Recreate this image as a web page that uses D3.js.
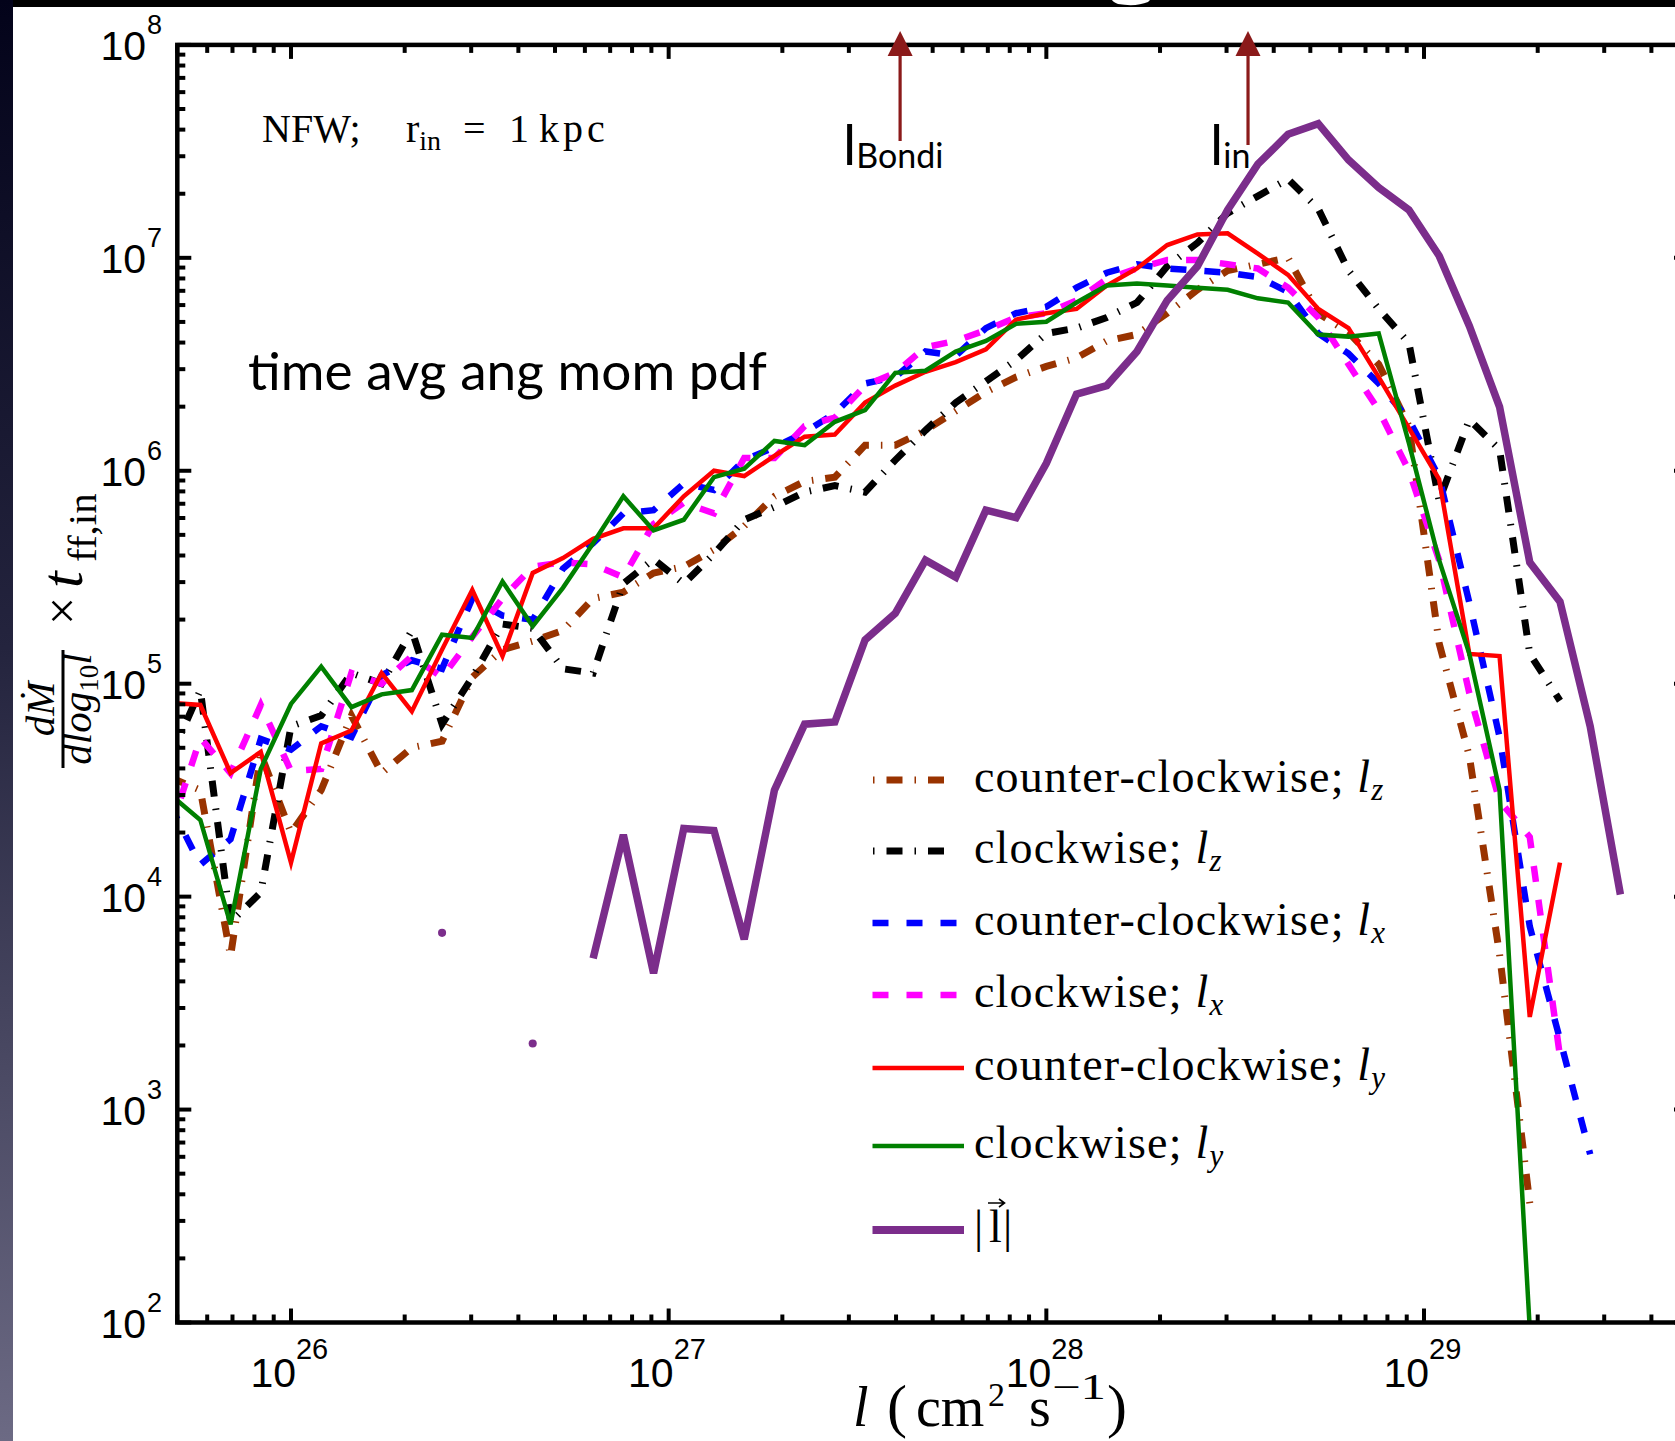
<!DOCTYPE html>
<html><head><meta charset="utf-8">
<script src="https://cdn.jsdelivr.net/npm/d3@7"></script>
<style>
html,body{margin:0;padding:0;background:#fff;overflow:hidden;}
svg{display:block;}
</style></head><body>
<svg id="chart" width="1675" height="1441"></svg>
<script>
// ---------- DATA (log10 bin centres of l, log10 of dMdot/dlog10 l * t_ff,in) ----------
const logL = [25.68,25.76,25.84,25.92,26.00,26.08,26.16,26.24,26.32,26.40,26.48,26.56,26.64,26.72,26.80,26.88,26.96,
  27.04,27.12,27.20,27.28,27.36,27.44,27.52,27.60,27.68,27.76,27.84,27.92,28.00,28.08,28.16,28.24,28.32,28.40,28.48,
  28.56,28.64,28.72,28.80,28.88,28.96,29.04,29.12,29.20,29.28,29.36,29.44,29.52];

const ccwLz = [4.56,4.50,3.72,4.67,4.30,4.50,4.85,4.58,4.70,4.73,5.03,5.16,5.20,5.25,5.40,5.43,5.52,5.55,5.63,5.74,
  5.88,5.95,5.97,6.12,6.12,6.19,6.28,6.37,6.44,6.49,6.53,6.61,6.64,6.74,6.85,6.94,6.97,7.00,6.74,6.65,6.50,6.21,
  5.19,4.66,3.73,2.56,null,null,null];
const cwLz = [4.65,4.97,3.88,4.02,4.80,4.85,5.05,5.00,5.25,4.81,5.03,5.28,5.26,5.07,5.05,5.47,5.585,5.47,5.61,5.77,
  5.83,5.90,5.93,5.90,6.05,6.19,6.32,6.42,6.52,6.645,6.67,6.72,6.79,6.96,7.07,7.21,7.29,7.37,7.23,6.94,6.76,6.60,
  5.86,6.24,6.10,5.14,4.92,null,null];
const ccwLx = [4.43,4.15,4.27,4.74,4.69,4.80,4.75,5.04,5.11,5.07,5.40,5.32,5.30,5.54,5.66,5.80,5.815,5.94,5.91,6.05,
  6.11,6.18,6.27,6.41,6.44,6.56,6.54,6.67,6.74,6.77,6.86,6.93,6.97,6.95,6.94,6.93,6.91,6.84,6.645,6.55,6.41,6.24,
  5.97,5.38,4.75,3.86,3.33,2.79,null];
const cwLx = [4.31,4.745,4.58,4.90,4.59,4.60,5.05,5.00,5.13,5.03,5.22,5.40,5.55,5.57,5.56,5.50,5.75,5.85,5.80,6.06,
  6.06,6.21,6.25,6.40,6.46,6.58,6.61,6.66,6.72,6.74,6.80,6.90,6.95,6.99,6.99,6.97,6.95,6.86,6.72,6.50,6.285,6.00,
  5.58,4.955,4.45,4.28,3.25,null,null];
const ccwLy = [4.91,4.90,4.58,4.68,4.16,4.72,4.78,5.05,4.87,5.16,5.44,5.13,5.52,5.59,5.68,5.73,5.73,5.88,6.00,5.975,
  6.07,6.16,6.17,6.32,6.40,6.465,6.51,6.57,6.71,6.74,6.76,6.87,6.95,7.06,7.11,7.115,7.02,6.92,6.76,6.67,6.44,6.20,
  5.96,5.14,5.13,3.435,4.16,null,null];
const cwLy = [4.48,4.36,3.87,4.60,4.905,5.08,4.89,4.95,4.97,5.23,5.215,5.48,5.27,5.45,5.66,5.88,5.72,5.77,5.97,6.01,
  6.14,6.12,6.23,6.285,6.46,6.47,6.56,6.61,6.69,6.70,6.79,6.87,6.88,6.87,6.86,6.85,6.81,6.79,6.64,6.63,6.645,6.13,
  5.58,5.14,4.50,1.97,null,null,null];
const magL = [null,null,null,null,null,null,null,null,null,3.83,null,null,3.31,null,3.71,4.29,3.64,4.32,4.31,3.80,
  4.50,4.81,4.82,5.205,5.33,5.58,5.50,5.815,5.78,6.035,6.36,6.40,6.56,6.80,6.96,7.225,7.44,7.58,7.63,7.46,7.33,7.225,
  7.01,6.68,6.30,5.57,5.385,4.80,4.01];

const seriesNames = ["counter-clockwise; ", "clockwise; ", "counter-clockwise; ", "clockwise; ",
  "counter-clockwise; ", "clockwise; ", ""];
const seriesComp = ["z","z","x","x","y","y",""];
const seriesColors = ["#993300","#000000","#0000ff","#ff00ff","#ff0000","#008000","#7b2d8b"];
const yExponents = [2,3,4,5,6,7,8];
const xExponents = [26,27,28,29];
const arrowL = [4.1e27, 3.42e28];
const arrowNames = ["Bondi","in"];

// ---------- LAYOUT ----------
const svg = d3.select("#chart");
const W = 1675, H = 1441;
const X0 = 177.3, X1 = 1688, Y0 = 44.9, Y1 = 1322.5;
const x = d3.scaleLog().domain([5e25, 5e29]).range([X0, X1]);
const y = d3.scaleLog().domain([1e2, 1e8]).range([Y1, Y0]);

const defs = svg.append("defs");
const grad = defs.append("linearGradient").attr("id","sideGrad").attr("x1",0).attr("y1",0).attr("x2",0).attr("y2",1);
grad.append("stop").attr("offset","0%").attr("stop-color","#03031a");
grad.append("stop").attr("offset","45%").attr("stop-color","#24243e");
grad.append("stop").attr("offset","100%").attr("stop-color","#6c6a84");
defs.append("clipPath").attr("id","plotClip").append("rect")
  .attr("x",X0).attr("y",Y0).attr("width",X1-X0).attr("height",Y1-Y0);

svg.append("rect").attr("width",W).attr("height",H).attr("fill","#fff");
svg.append("rect").attr("x",0).attr("y",0).attr("width",W).attr("height",7).attr("fill","#000");
svg.append("rect").attr("x",0).attr("y",0).attr("width",13).attr("height",H).attr("fill","url(#sideGrad)");
svg.append("path").attr("d","M1112,0 L1150,0 L1148,2 Q1136,7 1118,4 Q1113,2 1112,0 Z").attr("fill","#fff");

// ---------- SERIES ----------
const styles = [
  {w:7, dash:"16,12,1.5,12"},
  {w:7, dash:"16,12,1.5,12"},
  {w:6.5, dash:"16,18"},
  {w:6.5, dash:"16,18"},
  {w:4.5, dash:null},
  {w:4.5, dash:null},
  {w:7.5, dash:null}
];
const allSeries = [ccwLz, cwLz, ccwLx, cwLx, ccwLy, cwLy, magL];

const line = d3.line()
  .defined(d => d[1] !== null)
  .x(d => x(Math.pow(10, d[0])))
  .y(d => y(Math.pow(10, d[1])));

const gData = svg.append("g").attr("clip-path","url(#plotClip)");
allSeries.forEach((s, i) => {
  const pts = logL.map((l, k) => [l, s[k]]);
  gData.append("path").datum(pts)
    .attr("d", line)
    .attr("fill","none")
    .attr("stroke", seriesColors[i])
    .attr("stroke-width", styles[i].w)
    .attr("stroke-linejoin","miter")
    .attr("stroke-dasharray", styles[i].dash);
  pts.forEach((p, k) => {
    if (p[1] === null) return;
    const prev = k > 0 ? pts[k-1][1] : null, next = k < pts.length-1 ? pts[k+1][1] : null;
    if (prev === null && next === null) {
      gData.append("circle").attr("cx", x(Math.pow(10,p[0]))).attr("cy", y(Math.pow(10,p[1])))
        .attr("r", styles[i].w/2 + 0.3).attr("fill", seriesColors[i]);
    }
  });
});

// ---------- FRAME & TICKS ----------
const gAx = svg.append("g");
const tickW = 4;
x.ticks().forEach(v => {
  const major = Math.abs(Math.log10(v) - Math.round(Math.log10(v))) < 1e-9;
  const len = major ? 14 : 8;
  const px = x(v);
  gAx.append("line").attr("x1",px).attr("x2",px).attr("y1",Y1).attr("y2",Y1-len).attr("stroke","#000").attr("stroke-width",tickW);
  gAx.append("line").attr("x1",px).attr("x2",px).attr("y1",Y0).attr("y2",Y0+len).attr("stroke","#000").attr("stroke-width",tickW);
});
y.ticks().forEach(v => {
  const major = Math.abs(Math.log10(v) - Math.round(Math.log10(v))) < 1e-9;
  const len = major ? 14 : 8;
  const py = y(v);
  gAx.append("line").attr("x1",X0).attr("x2",X0+len).attr("y1",py).attr("y2",py).attr("stroke","#000").attr("stroke-width",tickW);
  gAx.append("line").attr("x1",X1).attr("x2",X1-len).attr("y1",py).attr("y2",py).attr("stroke","#000").attr("stroke-width",tickW);
});
gAx.append("rect").attr("x",X0).attr("y",Y0).attr("width",X1-X0).attr("height",Y1-Y0)
  .attr("fill","none").attr("stroke","#000").attr("stroke-width",4.5);

// tick labels
const tickFont = "'Liberation Sans', Arial, Helvetica, sans-serif";
yExponents.forEach(e => {
  const py = y(Math.pow(10, e));
  svg.append("text").attr("font-family",tickFont).attr("x",146).attr("y",py+15).attr("text-anchor","end")
    .attr("font-size",41).text("10");
  svg.append("text").attr("font-family",tickFont).attr("x",147).attr("y",py-11).attr("font-size",27).text(e);
});
xExponents.forEach(e => {
  const px = x(Math.pow(10, e));
  svg.append("text").attr("font-family",tickFont).attr("x",px+5).attr("y",1387).attr("text-anchor","end")
    .attr("font-size",41).text("10");
  svg.append("text").attr("font-family",tickFont).attr("x",px+5).attr("y",1359).attr("font-size",29).text(e);
});

// ---------- AXIS TITLES ----------
const serif = "'Liberation Serif', 'Times New Roman', serif";
const xt2 = svg.append("g").attr("font-family",serif).attr("fill","#000");
xt2.append("text").attr("x",853).attr("y",1426).attr("font-size",56).attr("font-style","italic").text("l");
xt2.append("text").attr("x",887).attr("y",1426).attr("font-size",60).text("(");
xt2.append("text").attr("x",916).attr("y",1426).attr("font-size",56).text("cm");
xt2.append("text").attr("x",988).attr("y",1406).attr("font-size",34).text("2");
xt2.append("text").attr("x",1029).attr("y",1426).attr("font-size",56).text("s");
xt2.append("text").attr("x",1052).attr("y",1399).attr("font-size",36)
  .attr("textLength",54).attr("lengthAdjust","spacingAndGlyphs").text("\u22121");
xt2.append("text").attr("x",1107).attr("y",1426).attr("font-size",60).text(")");

// y title (rotated): local (u,v) -> screen (v,-u)
const yl = svg.append("g").attr("transform","rotate(-90)").attr("font-family",serif).attr("fill","#000");
const fracC = -709;
yl.append("line").attr("x1",-768).attr("x2",-650).attr("y1",63).attr("y2",63).attr("stroke","#000").attr("stroke-width",3);
const num = yl.append("text").attr("x",fracC).attr("y",54).attr("text-anchor","middle").attr("font-size",41).attr("font-style","italic");
num.append("tspan").text("d");
num.append("tspan").text("M\u0307");
const den = yl.append("text").attr("x",fracC).attr("y",91).attr("text-anchor","middle").attr("font-size",41).attr("font-style","italic");
den.append("tspan").text("dlog");
den.append("tspan").attr("font-size",27).attr("font-style","normal").attr("dy",7).text("10");
den.append("tspan").attr("dy",-7).text("l");
yl.append("text").attr("x",-611).attr("y",79).attr("text-anchor","middle").attr("font-size",50).text("\u00d7");
yl.append("text").attr("x",-588).attr("y",82).attr("font-size",60).attr("font-style","italic").text("t");
yl.append("text").attr("x",-562).attr("y",96).attr("font-size",41).text("ff,in");

// ---------- ANNOTATIONS ----------
const annG = svg.append("g").attr("font-family",serif).attr("font-size",40).attr("fill","#000");
annG.append("text").attr("x",262).attr("y",142).text("NFW;");
const rin = annG.append("text").attr("x",406).attr("y",142);
rin.append("tspan").text("r");
rin.append("tspan").attr("font-size",28).attr("dy",8).text("in");
annG.append("text").attr("x",463).attr("y",142).text("=");
annG.append("text").attr("x",509).attr("y",142).text("1");
annG.append("text").attr("x",539).attr("y",142).attr("letter-spacing",4).text("kpc");

svg.append("text").attr("x",248).attr("y",390).attr("font-family","Lato, 'Open Sans', sans-serif")
  .attr("font-size",53).attr("fill","#000").attr("textLength",519).attr("lengthAdjust","spacingAndGlyphs")
  .text("time avg ang mom pdf");

const arrowCol = "#8b1a1a";
arrowL.forEach((v, i) => {
  const px = x(v);
  svg.append("line").attr("x1",px).attr("x2",px).attr("y1",i===0?141:145).attr("y2",54)
    .attr("stroke",arrowCol).attr("stroke-width",3.2);
  svg.append("path").attr("d",`M${px},31 L${px-12.5},56 L${px+12.5},56 Z`).attr("fill",arrowCol);
  const lbl = svg.append("text").attr("font-family","Lato, 'Open Sans', sans-serif").attr("fill","#000");
  const lx = i===0 ? 843 : 1210;
  lbl.attr("x",lx).attr("y",165);
  lbl.append("tspan").attr("font-size",56).text("l");
  lbl.append("tspan").attr("font-size",34).attr("dy",3).text(arrowNames[i]);
});

// ---------- LEGEND ----------
const legRows = [780, 851, 923, 995, 1068, 1146, 1230];
const legX0 = [873, 873, 872.5, 872.5, 872.5, 872.5, 872.5];
const legX1 = [956, 956, 957, 957, 964, 964, 964];
const gLeg = svg.append("g");
legRows.forEach((ry, i) => {
  gLeg.append("line").attr("x1",legX0[i]).attr("x2",legX1[i]).attr("y1",ry).attr("y2",ry)
    .attr("stroke",seriesColors[i]).attr("stroke-width",i===6?8:styles[i].w)
    .attr("stroke-dasharray", i<2 ? "1.5,12,16,12" : styles[i].dash);
  if (i < 6) {
    const t = gLeg.append("text").attr("x",974).attr("y",ry+12).attr("font-family",serif).attr("font-size",46)
      .attr("letter-spacing",1.2).attr("fill","#000");
    t.append("tspan").text(seriesNames[i]);
    t.append("tspan").attr("font-style","italic").text("l");
    t.append("tspan").attr("font-style","italic").attr("font-size",31).attr("dy",8).text(seriesComp[i]);
  } else {
    const t = gLeg.append("text").attr("y",ry+12).attr("font-family",serif).attr("font-size",46).attr("fill","#000");
    t.append("tspan").attr("x",974).text("|");
    t.append("tspan").attr("x",989).text("l");
    t.append("tspan").attr("x",1003).text("|");
    gLeg.append("path").attr("d",`M988,${ry-27} L1004,${ry-27} M999,${ry-31} L1004.5,${ry-27} L999,${ry-23}`)
      .attr("fill","none").attr("stroke","#000").attr("stroke-width",1.6);
  }
});
</script>
</body></html>
